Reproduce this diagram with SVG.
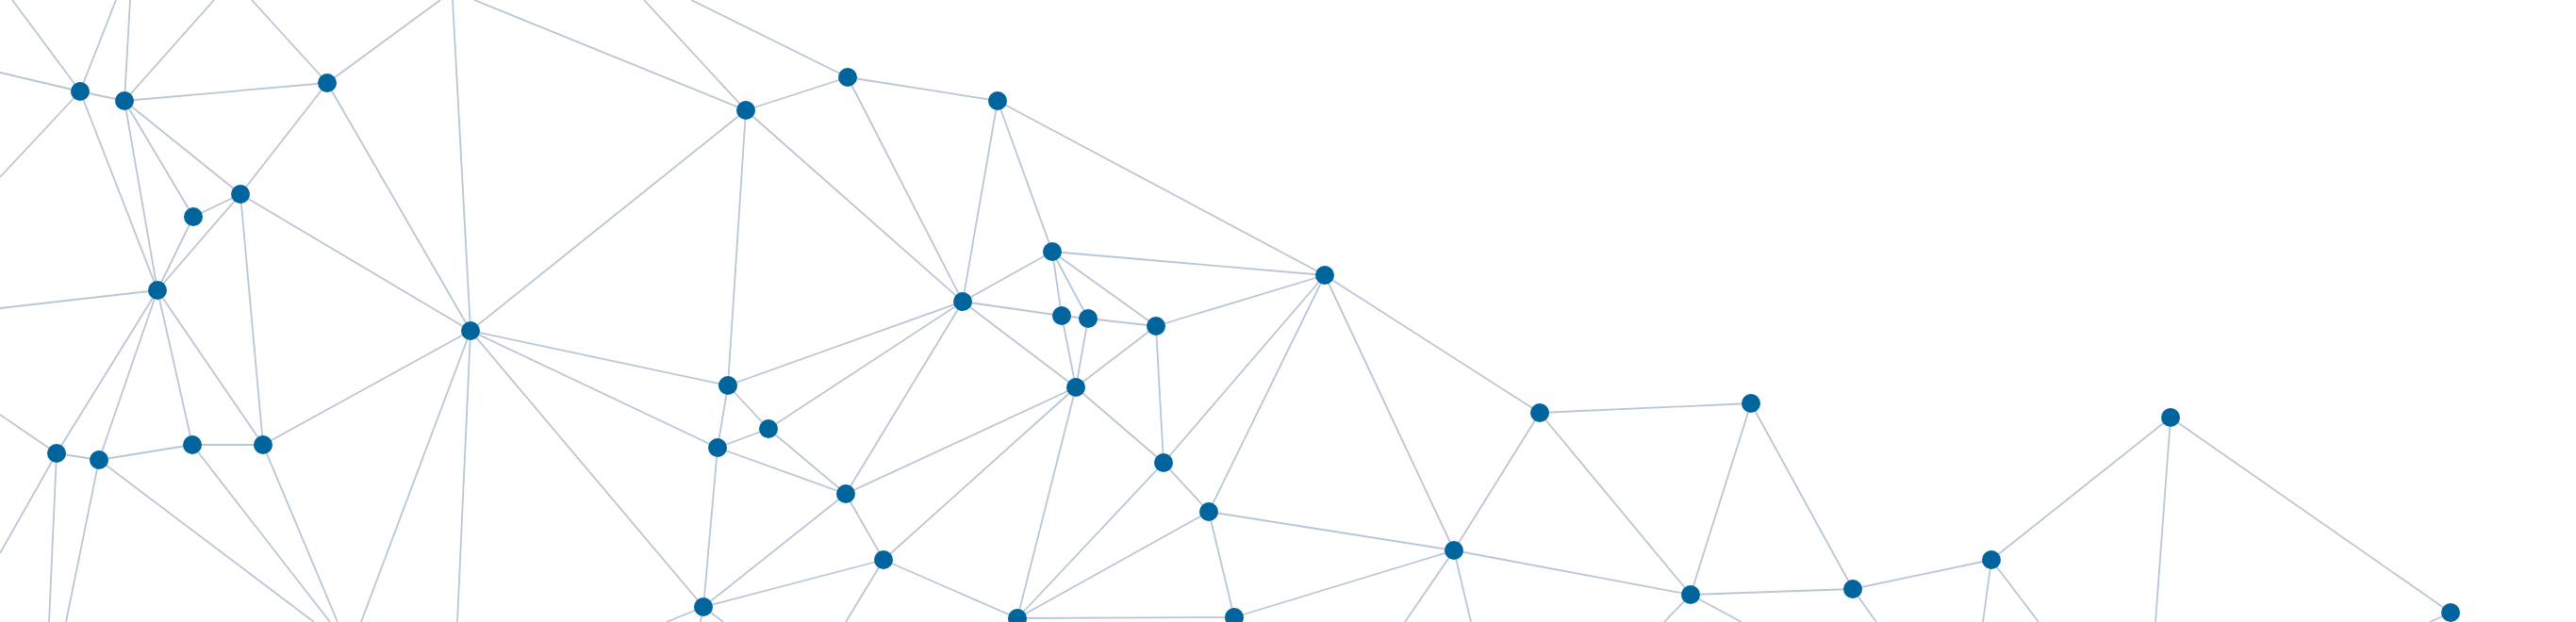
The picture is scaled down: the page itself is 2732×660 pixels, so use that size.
<svg xmlns="http://www.w3.org/2000/svg" width="2732" height="660" viewBox="0 0 2732 660">
<style>
.e{stroke:#BAC6D5;stroke-width:1.8;fill:none}
.n{fill:#00659C}
</style>
<rect width="2732" height="660" fill="#FFFFFF"/>
<g id="connectors">
<path class="e" d="M85 97L13 0M85 97L123 0M85 97L0 77M85 97L0 188M85 97L132 107M85 97L167 308
M132 107L138 0M132 107L227 0M132 107L347 88M132 107L255 206M132 107L205 230M132 107L167 308
M347 88L267 0M347 88L467 0M347 88L255 206M347 88L499 351
M255 206L205 230M255 206L167 308M255 206L499 351M255 206L279 472
M205 230L167 308
M167 308L0 327M167 308L60 481M167 308L105 488M167 308L204 472M167 308L279 472
M60 481L0 440M60 481L0 587M60 481L105 488M60 481L52 660
M105 488L204 472M105 488L70 660M105 488L333 660
M204 472L279 472M204 472L350 660
M279 472L499 351M279 472L358 660
M499 351L480 0M499 351L791 117M499 351L772 409M499 351L761 475M499 351L746 644M499 351L383 660M499 351L485 660
M791 117L503 0M791 117L683 0M791 117L899 82M791 117L772 409M791 117L1021 320
M899 82L733 0M899 82L1058 107M899 82L1021 320
M1058 107L1021 320M1058 107L1116 267M1058 107L1405 292
M1021 320L1116 267M1021 320L1126 335M1021 320L772 409M1021 320L815 455M1021 320L897 524M1021 320L1141 411
M1116 267L1126 335M1116 267L1154 338M1116 267L1226 346M1116 267L1405 292
M1126 335L1154 338M1126 335L1141 411
M1154 338L1226 346M1154 338L1141 411
M1226 346L1405 292M1226 346L1141 411M1226 346L1234 491
M1141 411L1234 491M1141 411L897 524M1141 411L937 594M1141 411L1079 656
M1234 491L1405 292M1234 491L1282 543M1234 491L1079 656
M1405 292L1282 543M1405 292L1633 438M1405 292L1542 584
M1282 543L1079 656M1282 543L1309 655M1282 543L1542 584
M1079 656L1309 655M1079 656L937 594
M1309 655L1542 584
M1542 584L1633 438M1542 584L1793 631M1542 584L1490 660M1542 584L1560 660
M1633 438L1857 428M1633 438L1793 631
M1857 428L1793 631M1857 428L1965 625
M1793 631L1965 625M1793 631L1765 660M1793 631L1847 660
M1965 625L2112 594M1965 625L1990 660
M2112 594L2302 443M2112 594L2103 660M2112 594L2162 660
M2302 443L2599 650M2302 443L2286 660
M2599 650L2577 660
M772 409L815 455M772 409L761 475
M815 455L761 475M815 455L897 524
M761 475L897 524M761 475L746 644
M897 524L937 594M897 524L746 644
M937 594L746 644M937 594L897 660
M746 644L707 660M746 644L743 660M746 644L767 660"/>
</g>
<g id="nA"><circle class="n" cx="85" cy="97" r="10"/></g>
<g id="nB"><circle class="n" cx="132" cy="107" r="10"/></g>
<g id="nC"><circle class="n" cx="347" cy="88" r="10"/></g>
<g id="nD"><circle class="n" cx="205" cy="230" r="10"/></g>
<g id="nE"><circle class="n" cx="255" cy="206" r="10"/></g>
<g id="nF"><circle class="n" cx="167" cy="308" r="10"/></g>
<g id="nG"><circle class="n" cx="499" cy="351" r="10"/></g>
<g id="nH"><circle class="n" cx="791" cy="117" r="10"/></g>
<g id="nI"><circle class="n" cx="60" cy="481" r="10"/></g>
<g id="nJ"><circle class="n" cx="105" cy="488" r="10"/></g>
<g id="nK"><circle class="n" cx="204" cy="472" r="10"/></g>
<g id="nL"><circle class="n" cx="279" cy="472" r="10"/></g>
<g id="nM"><circle class="n" cx="899" cy="82" r="10"/></g>
<g id="nN"><circle class="n" cx="772" cy="409" r="10"/></g>
<g id="nO"><circle class="n" cx="815" cy="455" r="10"/></g>
<g id="nP"><circle class="n" cx="761" cy="475" r="10"/></g>
<g id="nQ"><circle class="n" cx="897" cy="524" r="10"/></g>
<g id="nR"><circle class="n" cx="937" cy="594" r="10"/></g>
<g id="nS"><circle class="n" cx="746" cy="644" r="10"/></g>
<g id="nT"><circle class="n" cx="1058" cy="107" r="10"/></g>
<g id="nU"><circle class="n" cx="1021" cy="320" r="10"/></g>
<g id="nV"><circle class="n" cx="1116" cy="267" r="10"/></g>
<g id="nW"><circle class="n" cx="1126" cy="335" r="10"/></g>
<g id="nX"><circle class="n" cx="1154" cy="338" r="10"/></g>
<g id="nY"><circle class="n" cx="1226" cy="346" r="10"/></g>
<g id="nZ"><circle class="n" cx="1141" cy="411" r="10"/></g>
<g id="nAA"><circle class="n" cx="1079" cy="656" r="10"/></g>
<g id="nBB"><circle class="n" cx="1405" cy="292" r="10"/></g>
<g id="nCC"><circle class="n" cx="1234" cy="491" r="10"/></g>
<g id="nDD"><circle class="n" cx="1282" cy="543" r="10"/></g>
<g id="nEE"><circle class="n" cx="1309" cy="655" r="10"/></g>
<g id="nFF"><circle class="n" cx="1633" cy="438" r="10"/></g>
<g id="nGG"><circle class="n" cx="1857" cy="428" r="10"/></g>
<g id="nHH"><circle class="n" cx="1542" cy="584" r="10"/></g>
<g id="nII"><circle class="n" cx="1793" cy="631" r="10"/></g>
<g id="nJJ"><circle class="n" cx="1965" cy="625" r="10"/></g>
<g id="nKK"><circle class="n" cx="2112" cy="594" r="10"/></g>
<g id="nLL"><circle class="n" cx="2302" cy="443" r="10"/></g>
<g id="nMM"><circle class="n" cx="2599" cy="650" r="10"/></g>
</svg>
